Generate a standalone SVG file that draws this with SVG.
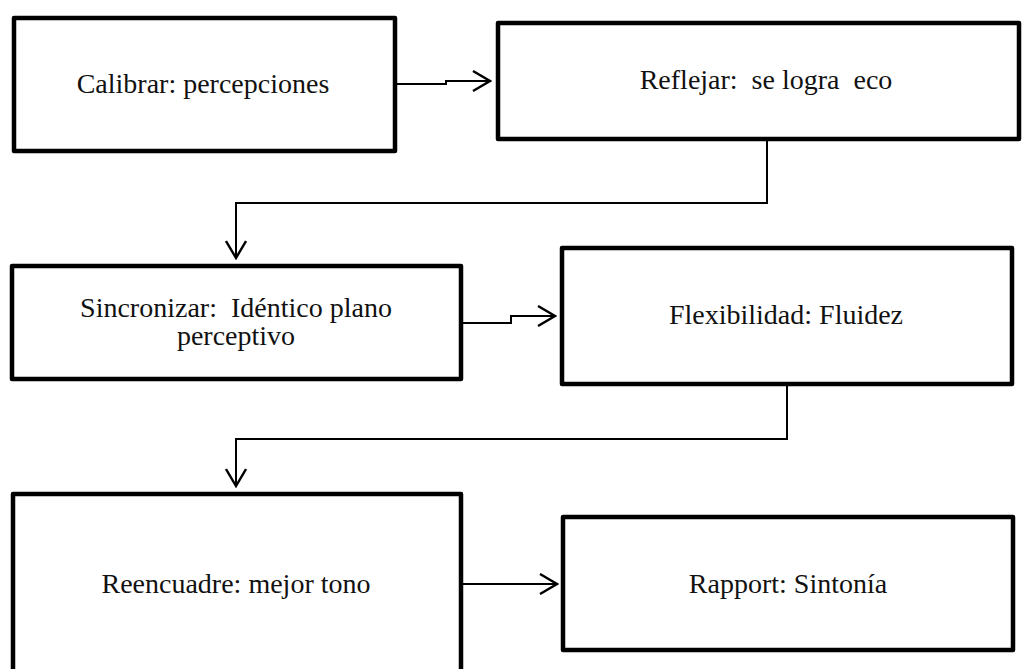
<svg xmlns="http://www.w3.org/2000/svg" width="1023" height="669" viewBox="0 0 1023 669">
<style>
.box{fill:#fff;stroke:#000;stroke-width:4.5;stroke-linejoin:round}
.lbl{font-family:"Liberation Serif","DejaVu Serif",serif;font-size:28px;fill:#111;text-anchor:middle;white-space:pre}
.con{fill:none;stroke:#000;stroke-width:2}
</style>
<defs>
<marker id="ah" markerWidth="20" markerHeight="22" refX="18" refY="11" orient="auto" markerUnits="userSpaceOnUse">
<path d="M1,1 L18,11 L1,21" fill="none" stroke="#000" stroke-width="2.4"/>
</marker>
</defs>
<rect width="1023" height="669" fill="#fff"/>
<g id="connectors">
<path class="con" d="M397,84 H446 V81 H490" marker-end="url(#ah)"/>
<path class="con" d="M767,141 V203 H236 V258" marker-end="url(#ah)"/>
<path class="con" d="M463,323 H511 V316 H555" marker-end="url(#ah)"/>
<path class="con" d="M787,386 V439 H236 V486" marker-end="url(#ah)"/>
<path class="con" d="M463,584 H557" marker-end="url(#ah)"/>
</g>
<g id="calibrar">
<rect class="box" x="14" y="18" width="381" height="133"/>
<text class="lbl" x="203" y="93">Calibrar: percepciones</text>
</g>
<g id="reflejar">
<rect class="box" x="498" y="23" width="521" height="116"/>
<text class="lbl" x="766" y="89" xml:space="preserve">Reflejar:  se logra  eco</text>
</g>
<g id="sincronizar">
<rect class="box" x="12" y="266" width="449" height="113"/>
<text class="lbl" x="236" y="317" xml:space="preserve">Sincronizar:  Idéntico plano</text>
<text class="lbl" x="236" y="345">perceptivo</text>
</g>
<g id="flexibilidad">
<rect class="box" x="562" y="248" width="450" height="136"/>
<text class="lbl" x="786" y="324">Flexibilidad: Fluidez</text>
</g>
<g id="reencuadre">
<rect class="box" x="13" y="494" width="448" height="200"/>
<text class="lbl" x="236" y="593">Reencuadre: mejor tono</text>
</g>
<g id="rapport">
<rect class="box" x="563" y="517" width="450" height="133"/>
<text class="lbl" x="788" y="593">Rapport: Sintonía</text>
</g>
</svg>
